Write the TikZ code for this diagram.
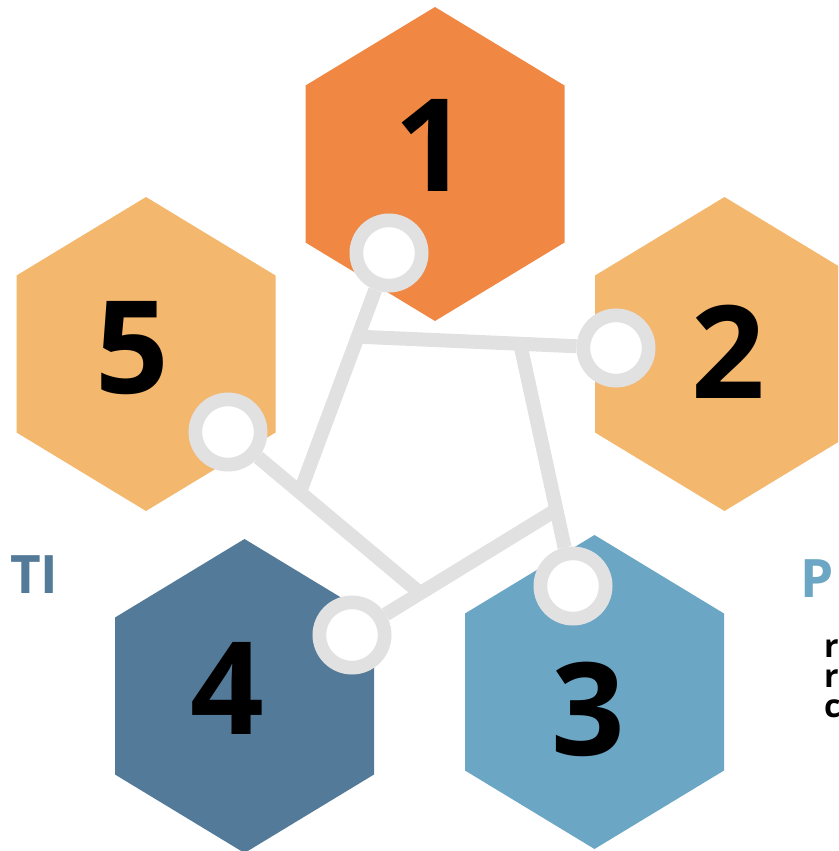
\documentclass[tikz,border=0pt]{standalone}
\usepackage{fontspec}
\setmainfont{Open Sans}
\usepackage{tikz}
\usetikzlibrary{calc}
\definecolor{hexorange}{HTML}{F08843}
\definecolor{hexsand}{HTML}{F3B76E}
\definecolor{hexdark}{HTML}{537A98}
\definecolor{hexlight}{HTML}{6CA6C5}
\definecolor{ringgray}{HTML}{E1E1E1}
\tikzstyle{ring}=[draw=ringgray,fill=white,circle,line width=13.7pt,minimum size=65.3pt,inner sep=0pt]
\tikzstyle{link}=[draw=ringgray,line width=14pt]
\tikzstyle{digit}=[font=\fontsize{129}{129}\selectfont\bfseries,inner sep=0pt,anchor=base]
\tikzstyle{side}=[font=\fontsize{53}{53}\selectfont\bfseries,inner sep=0pt,anchor=base west]
\tikzstyle{note}=[font=\fontsize{32}{30}\selectfont\bfseries,inner sep=0pt,anchor=base west]

\begin{document}
\begin{tikzpicture}[x=1pt,y=-1pt]
\useasboundingbox (0,0) rectangle (838,851);
\clip (0,0) rectangle (838,851);
% hexagons
\foreach \place/\col in {(435,164)/hexorange, (724.5,354)/hexsand, (594.5,692)/hexlight,
  (244.5,696)/hexdark, (146,354)/hexsand}
  \fill[\col] \place ++(0,-157) -- ++(129.5,78.5) -- ++(0,157) -- ++(-129.5,78.5)
    -- ++(-129.5,-78.5) -- ++(0,-157) -- cycle;
\foreach \place/\name in {(431,191)/1, (728.5,398)/2, (588,755)/3, (227,734)/4, (132,393)/5}
  \node[digit] (n\name) at \place {\name};

% rings and links
\foreach \place/\name in {(389,253)/1, (616,348)/2, (573,586)/3, (352,635)/4, (228,432)/5}
  \node[ring] (c\name) at \place {};
\coordinate (a) at (300,492);
\coordinate (b) at (420,593);
\coordinate (d) at (556,510);
\coordinate (e) at (520,343);
\coordinate (f) at ($(c1.center)!0.35!(a)$);
\foreach \source/\dest in {c1/a, c5/b, c4/d, f/c2, e/c3}
  \draw[link] (\source) -- (\dest);

% side texts
\node[side,color=hexdark] (ti) at (10,593) {TI};
\node[side,color=hexlight] (p) at (800,597) {P};
\foreach \y/\t/\name in {657/r/r1, 687/r/r2, 717/c/c6}
  \node[note] (\name) at (824,\y) {\t};
\end{tikzpicture}
\end{document}
